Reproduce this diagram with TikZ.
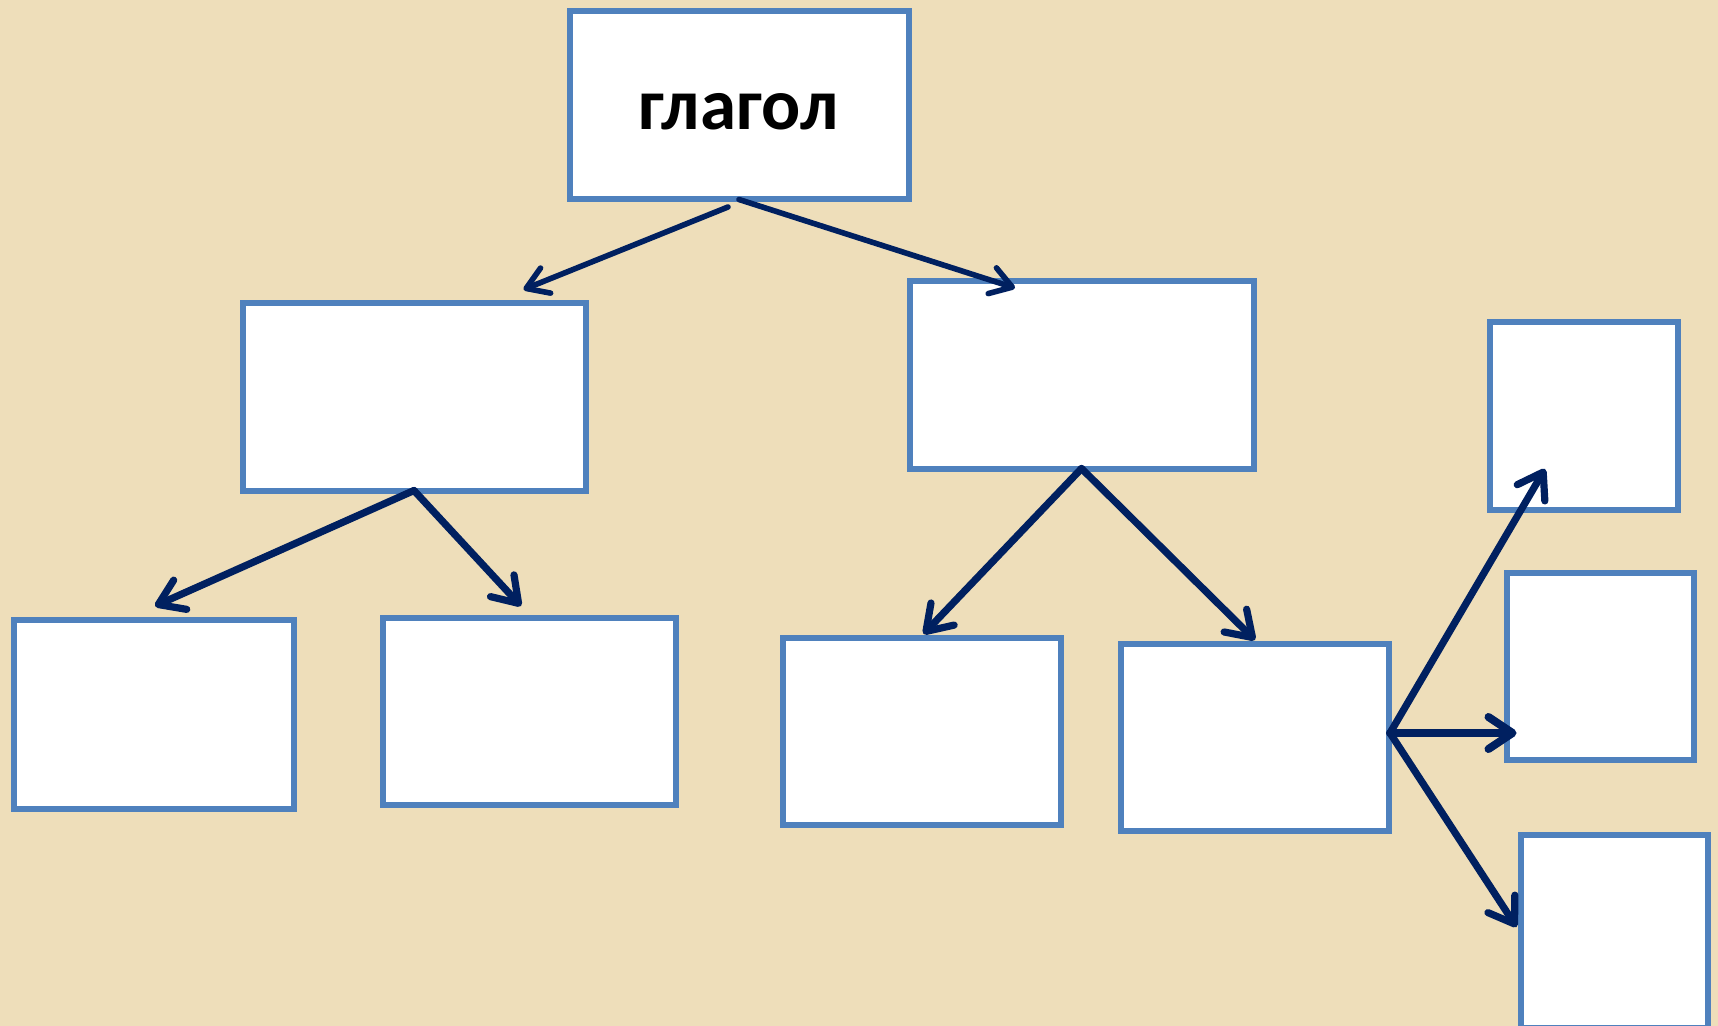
\documentclass[tikz,border=0pt]{standalone}
\usepackage{fontspec}
\setmainfont{Carlito}
\usetikzlibrary{arrows.meta,calc}

\definecolor{paper}{RGB}{238,222,186}
\definecolor{boxline}{RGB}{79,129,189}
\definecolor{navy}{RGB}{0,32,96}

\begin{document}
\begin{tikzpicture}[x=0.5pt,y=0.5pt,yscale=-1,xscale=1,
    box/.style={draw=boxline,fill=white,line width=3pt,inner sep=0pt,outer sep=0pt},
    arr/.style={draw=navy,line width=3.6pt,line cap=round,-{Straight Barb[round,length=12pt,width=16pt]}},
    toparr/.style={arr,line width=2.8pt,-{Straight Barb[round,length=10.5pt,width=13.5pt]}}]
        \useasboundingbox (0,0) rectangle (1718,1026);
        \fill [paper] (0,0) rectangle (1718,1026);
        % boxes
        \node [box,minimum width=169.5pt,minimum height=94pt,text height=24.5pt,text depth=0pt,font=\bfseries\fontsize{36.5}{40}\selectfont] (glagol) at (739,105.5) {глагол};
        \node [box,minimum width=171.5pt,minimum height=93.5pt] (left) at (414,397) {};
        \node [box,minimum width=172pt,minimum height=93.5pt] (right) at (1081.5,375) {};
        \node [box,minimum width=140pt,minimum height=94.5pt] (leftA) at (153.5,714) {};
        \node [box,minimum width=146.5pt,minimum height=93.5pt] (leftB) at (529,711.5) {};
        \node [box,minimum width=139pt,minimum height=93.5pt] (rightA) at (921.5,731) {};
        \node [box,minimum width=134pt,minimum height=93.5pt] (rightB) at (1255,737) {};
        \node [box,minimum width=94pt,minimum height=93.5pt] (outA) at (1583.5,416) {};
        \node [box,minimum width=93.5pt,minimum height=93.5pt] (outB) at (1600,666) {};
        \node [box,minimum width=93.5pt,minimum height=96.5pt] (outC) at (1614,931) {};
        % arrows
        \draw [toparr] ($(glagol.south)+(-11,7.5)$) -- ($(left.north)+(109.5,-14)$);
        \draw [toparr] (glagol.south) -- ($(right.north)+(-66.5,6.5)$);
        \draw [arr] (left.south) -- ($(leftA.north)+(1.5,-13.5)$);
        \draw [arr] (left.south) -- ($(leftB.north)+(-8,-12)$);
        \draw [arr] (right.south) -- ($(rightA.north)+(2,-3.5)$);
        \draw [arr] (right.south) -- ($(rightB.north)+(0,-3.5)$);
        \coordinate (fork) at ($(rightB.east)+(1,-4)$);
        \draw [arr] (fork) -- ($(outA.south)+(-38.5,-40.5)$);
        \draw [arr,line width=4pt] (fork) -- ($(outB.west)+(10,67)$);
        \draw [arr] (fork) -- ($(outC.west)+(-4,-4)$);
\end{tikzpicture}
\end{document}
